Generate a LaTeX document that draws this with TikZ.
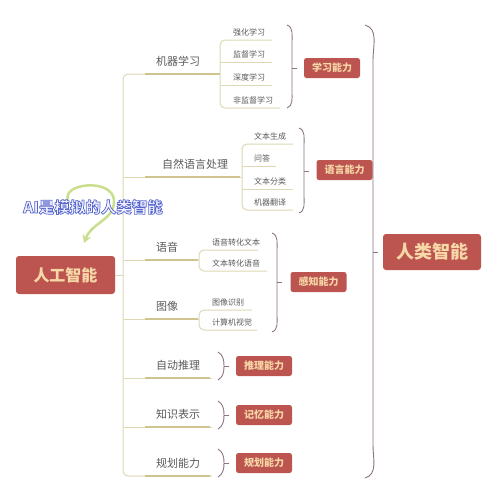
\documentclass[tikz,border=0pt]{standalone}
\usepackage{fontspec}
\setmainfont{Noto Sans CJK SC}
\usetikzlibrary{arrows.meta}
\definecolor{boxred}{HTML}{BC5450}
\definecolor{boxtext}{HTML}{F6D7A7}
\definecolor{branch}{HTML}{DCD9B4}
\definecolor{branchdark}{HTML}{CFC48E}
\definecolor{brk}{HTML}{8C7482}
\definecolor{txt}{HTML}{5A5A5A}
\definecolor{aiblue}{HTML}{5668CC}
\definecolor{aifill}{HTML}{F2F0FF}
\definecolor{arrowgreen}{HTML}{CADF8E}
\newcommand\outlinedtext[1]{\special{pdf:literal direct 2 Tr 0.7 w 1 j 0.337 0.408 0.8 RG}#1\special{pdf:literal direct 0 Tr}}
\tikzset{
  topic/.style={text=txt, font=\fontsize{11}{12}\selectfont, inner sep=0pt},
  item/.style={text=txt, font=\fontsize{8}{9}\selectfont, inner sep=0pt, anchor=south west},
  ability/.style={fill=boxred, rounded corners=2.5pt, text=boxtext, font=\bfseries\fontsize{10}{11}\selectfont, minimum width=56pt, minimum height=20pt, inner sep=0pt},
  bigbox/.style={fill=boxred, rounded corners=3pt, text=boxtext, font=\bfseries\fontsize{16}{18}\selectfont, inner sep=0pt},
  br/.style={draw=branch, line width=1pt, rounded corners=5pt},
  brd/.style={draw=branchdark, line width=2pt},
  brkt/.style={draw=brk, line width=0.9pt},
  aitext/.style={font=\bfseries\fontsize{15.5}{16}\selectfont, inner sep=0pt}
}
\begin{document}
\begin{tikzpicture}[x=1pt,y=-1pt]
\useasboundingbox[fill=white] (0,0) rectangle (500,501);

% ---- root ----
\node[bigbox, minimum width=99pt, minimum height=38pt] (ai) at (65.5,275) {人工智能};
\coordinate (tj) at (123,275);
\draw[br] (ai.east) -- (tj);

% ---- main trunk ----
\draw[br] (220,74) -- (123,74) -- (123,476) -- (212,476);
\draw[br] (123,177) -- (242,177);
\draw[br] (123,260) -- (199,260);
\draw[br] (123,319) -- (199,319);
\draw[br] (123,378) -- (212,378);
\draw[br] (123,427) -- (212,427);
\draw[brd] (145,74) -- (220,74);
\draw[brd] (145,177) -- (240,177);
\draw[brd] (145,260) -- (198,260);
\draw[brd] (145,319) -- (198,319);
\draw[brd] (145,378) -- (210,378);
\draw[brd] (145,427) -- (210,427);
\draw[brd] (145,476) -- (210,476);

% topics
\node[topic] (ml) at (178,61) {机器学习};
\node[topic] (nlp) at (195,164) {自然语言处理};
\node[topic] (sp) at (167,247) {语音};
\node[topic] (im) at (167,306) {图像};
\node[topic] (re) at (178,365) {自动推理};
\node[topic] (kn) at (178,414) {知识表示};
\node[topic] (pl) at (178,463) {规划能力};

% ---- machine learning items ----
\draw[br] (272,40) -- (220,40) -- (220,108) -- (280,108);
\draw[br] (220,62) -- (272,62);
\draw[br] (220,85) -- (272,85);
\node[item] (ml1) at (233,36) {强化学习};
\node[item] (ml2) at (233,58) {监督学习};
\node[item] (ml3) at (233,81) {深度学习};
\node[item] (ml4) at (233,104) {非监督学习};

% ---- NLP items ----
\draw[br] (293,144) -- (242,144) -- (242,210) -- (293,210);
\draw[br] (242,166) -- (276,166);
\draw[br] (242,189) -- (293,189);
\node[item] (n1) at (254,140) {文本生成};
\node[item] (n2) at (254,162) {问答};
\node[item] (n3) at (254,185) {文本分类};
\node[item] (n4) at (254,206) {机器翻译};

% ---- speech items ----
\draw[br] (258,250) -- (199,250) -- (199,271) -- (267,271);
\node[item] (s1) at (212,246) {语音转化文本};
\node[item] (s2) at (212,267) {文本转化语音};

% ---- image items ----
\draw[br] (252,310) -- (199,310) -- (199,330) -- (257,330);
\node[item] (i1) at (212,306) {图像识别};
\node[item] (i2) at (212,326) {计算机视觉};

% ---- brackets & ability boxes ----
\draw[brkt] (287,25) to[out=-20,in=90] (292,42) -- (292,92) to[out=-90,in=20] (287,108);
\draw[brkt] (292,68) -- (297,68);
\node[ability] (lab) at (332,68) {学习能力};

\draw[brkt] (299,128) to[out=-20,in=90] (304,145) -- (304,196) to[out=-90,in=20] (299,213);
\draw[brkt] (304,171) -- (309,171);
\node[ability] (lang) at (344.5,170) {语言能力};

\draw[brkt] (272,233) to[out=-20,in=90] (277,250) -- (277,315) to[out=-90,in=20] (272,332);
\draw[brkt] (277,282) -- (282,282);
\node[ability] (per) at (318.5,282) {感知能力};

\draw[brkt] (218,352) to[out=-30,in=90] (224,366) to[out=-90,in=30] (218,380);
\draw[brkt] (224,366) -- (229,366);
\node[ability] (rea) at (264,366) {推理能力};

\draw[brkt] (218,401) to[out=-30,in=90] (224,415) to[out=-90,in=30] (218,429);
\draw[brkt] (224,415) -- (229,415);
\node[ability] (mem) at (264,415) {记忆能力};

\draw[brkt] (218,449) to[out=-30,in=90] (224,463) to[out=-90,in=30] (218,477);
\draw[brkt] (224,463) -- (229,463);
\node[ability] (pla) at (264,463) {规划能力};

% big bracket
\draw[brkt] (365,25) to[out=-15,in=90] (373,60) -- (373,445) to[out=-90,in=15] (365,478);
\draw[brkt] (373,252) -- (378,252);
\node[bigbox, minimum width=98pt, minimum height=36pt, font=\bfseries\fontsize{18}{20}\selectfont] (hum) at (432,252) {人类智能};

% ---- AI caption with circular arrow ----
\coordinate (arrs) at (68,200);
\coordinate (arre) at (84,243);
\draw[arrowgreen, line width=2.5pt, -{Stealth[length=8pt,width=9pt]}]
  (arrs) .. controls (62,183) and (112,178) .. (114,200)
         .. controls (115,220) and (92,222) .. (arre);
\node[aitext, text=aifill] (cap) at (93,207) {\outlinedtext{AI是模拟的人类智能}};
\end{tikzpicture}
\end{document}
